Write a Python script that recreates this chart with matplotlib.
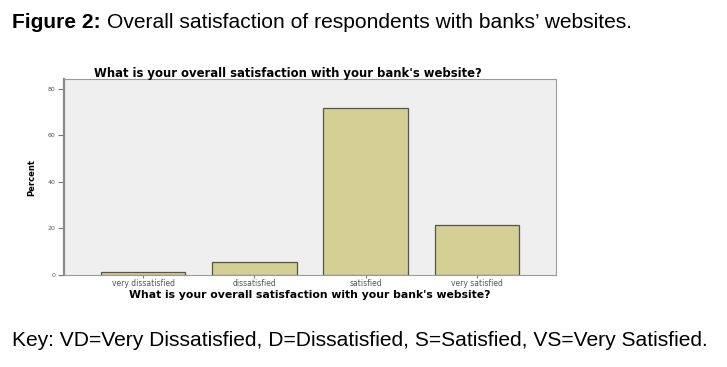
import matplotlib
matplotlib.use("Agg")
import matplotlib.pyplot as plt

categories = ["very dissatisfied", "dissatisfied", "satisfied", "very satisfied"]
percent = [1.3, 5.6, 71.7, 21.6]
yticks = [0, 20, 40, 60, 80]

W, H = 727, 367
fig = plt.figure(figsize=(W / 100, H / 100), dpi=100)
fig.patch.set_facecolor("white")

def fx(px):
    return px / W

def fy(py):
    return 1 - py / H

left, right, top, bottom = 64, 556, 79, 275
ax = fig.add_axes([fx(left), fy(bottom), fx(right) - fx(left), fy(top) - fy(bottom)])
ax.set_facecolor("#efefef")

x = list(range(len(categories)))
ax.bar(x, percent, width=0.76, color="#d3cf95", edgecolor="#55554a", linewidth=0.9, zorder=3)

ax.set_xlim(-0.71, 3.71)
ymax = (274 - 79) / 46.3 * 20
ax.set_ylim(0, ymax)
ax.set_yticks(yticks)
ax.set_yticklabels([str(t) for t in yticks], fontsize=4.5, color="#555555")
ax.set_xticks(x)
ax.set_xticklabels(categories, fontsize=5.5, color="#555555")
ax.tick_params(axis="y", length=4, width=0.8, color="#777777", pad=2)
ax.tick_params(axis="x", length=2, width=0.8, color="#777777", pad=1)
for s in ["top", "right", "bottom"]:
    ax.spines[s].set_color("#9a9a9a")
    ax.spines[s].set_linewidth(0.8)
ax.spines["left"].set_color("#8a8a8a")
ax.spines["left"].set_linewidth(1.6)

ax.set_ylabel("Percent", fontsize=6, fontweight="bold", labelpad=8)
ax.set_xlabel("What is your overall satisfaction with your bank's website?", fontsize=7.8,
              fontweight="bold", labelpad=1.5)
fig.text(fx(288), fy(73), "What is your overall satisfaction with your bank's website?", fontsize=8.4,
         fontweight="bold", ha="center", va="center")

t1 = fig.text(fx(12), fy(22), "Figure 2:", fontsize=15.1, fontweight="bold", va="center", ha="left",
              family="Liberation Sans")
fig.canvas.draw()
bb = t1.get_window_extent()
fig.text((bb.x1 + 6) / W, fy(22), "Overall satisfaction of respondents with banks\u2019 websites.",
         fontsize=15.1, va="center", ha="left", family="Liberation Sans")
fig.text(fx(12), fy(341), "Key: VD=Very Dissatisfied, D=Dissatisfied, S=Satisfied, VS=Very Satisfied.",
         fontsize=15.1, va="center", ha="left", family="Liberation Sans")

fig.savefig("out.png", dpi=100)
